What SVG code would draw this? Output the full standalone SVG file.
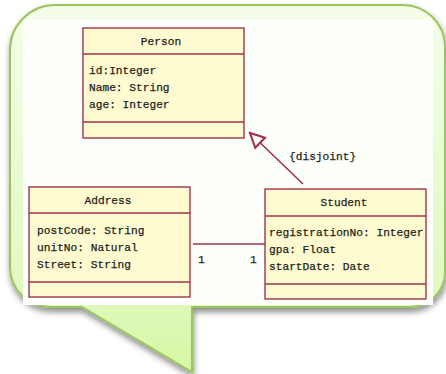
<svg xmlns="http://www.w3.org/2000/svg" width="446" height="374" viewBox="0 0 446 374">
  <style>
    .box { fill: #fefbd0; stroke: #a3324f; stroke-width: 1.4; }
    .div { stroke: #a3324f; stroke-width: 1.4; fill: none; }
    .t { font-family: "Liberation Mono", "DejaVu Sans Mono", monospace; font-size: 11.2px; fill: #1e1e1e; stroke: #1e1e1e; stroke-width: 0.25; }
    .title { text-anchor: middle; }
    .conn { stroke: #a3324f; stroke-width: 1.6; fill: none; }
  </style>
  <defs>
    <linearGradient id="bubbleFill" x1="0" y1="0" x2="0" y2="1">
      <stop offset="0" stop-color="#f4fdea"/>
      <stop offset="0.75" stop-color="#e2f9c2"/>
      <stop offset="1" stop-color="#d6f7a4"/>
    </linearGradient>
    <filter id="shadow" x="-10%" y="-10%" width="125%" height="125%">
      <feDropShadow dx="1" dy="4" stdDeviation="3" flood-color="#000" flood-opacity="0.45"/>
    </filter>
    <marker id="genHead" viewBox="0 0 18 18" refX="16" refY="9" markerWidth="18" markerHeight="18" markerUnits="userSpaceOnUse" orient="auto">
      <path d="M2,2 L16,9 L2,16 Z" fill="#fdfffa" stroke="#a3324f" stroke-width="2.2" stroke-linejoin="miter"/>
    </marker>
  </defs>

  <!-- speech bubble background -->
  <path id="bubble" d="M55,5 H403 A42,42 0 0 1 445,47 V272 A35,35 0 0 1 410,307 H192 V372 L82,307 H50 A40,40 0 0 1 10,267 V50 A45,45 0 0 1 55,5 Z" fill="url(#bubbleFill)" stroke="#9cc45c" stroke-width="2" filter="url(#shadow)"/>

  <!-- drawing sheet -->
  <rect x="23" y="20" width="410" height="285" fill="#fcfffa"/>

  <g id="connectors">
    <line class="conn" x1="303" y1="184" x2="250" y2="133" marker-end="url(#genHead)"/>
    <text class="t" x="289" y="160">{disjoint}</text>
    <line class="conn" x1="193" y1="244" x2="265" y2="244"/>
    <text class="t" x="198" y="263">1</text>
    <text class="t" x="250" y="263">1</text>
  </g>

  <g id="person">
    <rect class="box" x="83" y="28" width="161" height="110"/>
    <line class="div" x1="83" y1="54" x2="244" y2="54"/>
    <line class="div" x1="83" y1="122" x2="244" y2="122"/>
    <text class="t title" x="161" y="45">Person</text>
    <text class="t" x="89" y="74">id:Integer</text>
    <text class="t" x="89" y="91">Name: String</text>
    <text class="t" x="89" y="108">age: Integer</text>
  </g>

  <g id="address">
    <rect class="box" x="29" y="187" width="161" height="110"/>
    <line class="div" x1="29" y1="213" x2="190" y2="213"/>
    <line class="div" x1="29" y1="282" x2="190" y2="282"/>
    <text class="t title" x="108" y="204">Address</text>
    <text class="t" x="37" y="234">postCode: String</text>
    <text class="t" x="37" y="251">unitNo: Natural</text>
    <text class="t" x="37" y="268">Street: String</text>
  </g>

  <g id="student">
    <rect class="box" x="265" y="189" width="161" height="110"/>
    <line class="div" x1="265" y1="216" x2="426" y2="216"/>
    <line class="div" x1="265" y1="284" x2="426" y2="284"/>
    <text class="t title" x="344" y="206">Student</text>
    <text class="t" x="269" y="236">registrationNo: Integer</text>
    <text class="t" x="269" y="253">gpa: Float</text>
    <text class="t" x="269" y="270">startDate: Date</text>
  </g>
</svg>
